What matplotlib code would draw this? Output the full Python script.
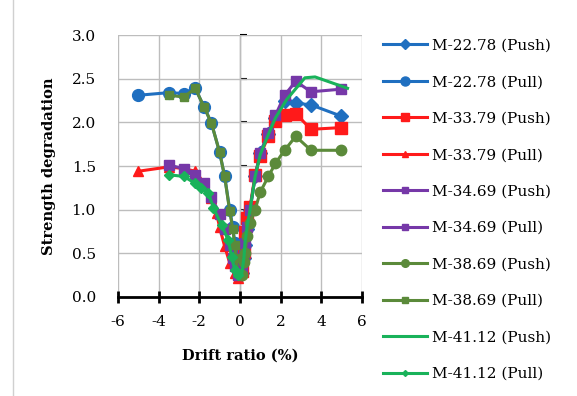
import matplotlib.pyplot as plt
from matplotlib.lines import Line2D

plt.rcParams['font.family'] = ['DejaVu Serif']
plt.rcParams['axes.unicode_minus'] = False

# drift ratio (%) and strength degradation
x_2278_push = [0.1, 0.2, 0.25, 0.35, 0.5, 0.75, 1.0, 1.4, 1.75, 2.2, 2.75, 3.5, 5.0]
y_2278_push = [0.28, 0.45, 0.60, 0.78, 1.00, 1.38, 1.65, 1.87, 2.05, 2.24, 2.22, 2.20, 2.07]
x_2278_pull = [-5.0, -3.5, -2.75, -2.2, -1.75, -1.4, -1.0, -0.75, -0.5, -0.35, -0.25, -0.2, -0.1]
y_2278_pull = [2.31, 2.34, 2.33, 2.39, 2.17, 1.99, 1.66, 1.38, 1.00, 0.80, 0.62, 0.48, 0.30]

x_3379_push = [0.1, 0.2, 0.25, 0.35, 0.5, 0.75, 1.0, 1.4, 1.75, 2.2, 2.75, 3.5, 5.0]
y_3379_push = [0.30, 0.52, 0.75, 0.90, 1.03, 1.40, 1.62, 1.84, 2.02, 2.08, 2.10, 1.92, 1.94]
x_3379_pull = [-5.0, -3.5, -2.75, -2.2, -1.75, -1.4, -1.15, -1.0, -0.75, -0.5, -0.25, -0.1]
y_3379_pull = [1.44, 1.49, 1.47, 1.44, 1.30, 1.13, 0.96, 0.80, 0.58, 0.39, 0.27, 0.22]

x_3469_push = [0.1, 0.2, 0.25, 0.35, 0.5, 0.75, 1.0, 1.4, 1.75, 2.2, 2.75, 3.5, 5.0]
y_3469_push = [0.30, 0.48, 0.62, 0.80, 1.00, 1.38, 1.65, 1.88, 2.08, 2.31, 2.47, 2.35, 2.38]
x_3469_pull = [-3.5, -2.75, -2.2, -1.75, -1.4, -1.0, -0.75, -0.5, -0.35, -0.25, -0.1]
y_3469_pull = [1.51, 1.47, 1.40, 1.30, 1.15, 0.95, 0.78, 0.60, 0.45, 0.35, 0.25]

x_3869_push = [0.1, 0.2, 0.25, 0.35, 0.5, 0.75, 1.0, 1.4, 1.75, 2.2, 2.75, 3.5, 5.0]
y_3869_push = [0.25, 0.40, 0.50, 0.70, 0.85, 1.00, 1.20, 1.38, 1.53, 1.68, 1.84, 1.68, 1.68]
x_3869_pull = [-3.5, -2.75, -2.2, -1.75, -1.4, -1.0, -0.75, -0.5, -0.35, -0.25, -0.2, -0.1]
y_3869_pull = [2.31, 2.29, 2.39, 2.17, 1.99, 1.66, 1.38, 0.98, 0.78, 0.60, 0.45, 0.28]

x_4112_push = [0.1, 0.2, 0.25, 0.35, 0.5, 0.75, 1.0, 1.4, 1.75, 2.3, 3.2, 3.7, 5.3]
y_4112_push = [0.28, 0.45, 0.62, 0.80, 1.00, 1.38, 1.63, 1.86, 2.05, 2.26, 2.51, 2.52, 2.39]
x_4112_pull = [-3.5, -2.75, -2.2, -1.9, -1.55, -1.3, -0.9, -0.57, -0.41, -0.25, -0.1]
y_4112_pull = [1.40, 1.38, 1.30, 1.25, 1.19, 1.02, 0.82, 0.65, 0.46, 0.31, 0.25]

blue = '#1f6fc0'
red = '#ff1a1a'
purple = '#7638a8'
olive = '#5b8a3a'
green = '#19b25a'

series = [
    ('M-22.78 (Push)', x_2278_push, y_2278_push, blue, 'D', 7),
    ('M-22.78 (Pull)', x_2278_pull, y_2278_pull, blue, 'o', 8.5),
    ('M-33.79 (Push)', x_3379_push, y_3379_push, red, 's', 8),
    ('M-33.79 (Pull)', x_3379_pull, y_3379_pull, red, '^', 7),
    ('M-34.69 (Push)', x_3469_push, y_3469_push, purple, 's', 6.5),
    ('M-34.69 (Pull)', x_3469_pull, y_3469_pull, purple, 's', 6.5),
    ('M-38.69 (Push)', x_3869_push, y_3869_push, olive, 'o', 7.5),
    ('M-38.69 (Pull)', x_3869_pull, y_3869_pull, olive, 's', 6),
    ('M-41.12 (Push)', x_4112_push, y_4112_push, green, None, 0),
    ('M-41.12 (Pull)', x_4112_pull, y_4112_pull, green, 'D', 5),
]

fig = plt.figure(figsize=(5.77, 3.96), dpi=100)
ax = fig.add_axes([0.2045, 0.25, 0.4225, 0.6616])

handles = []
for label, xs, ys, c, m, ms in series:
    ax.plot(xs, ys, color=c, lw=2.2, marker=m, ms=ms, zorder=3)
    handles.append(Line2D([], [], color=c, lw=2.2, marker=m,
                          ms=max(ms - 2, 0), label=label))

ax.set_xlim(-6, 6)
ax.set_ylim(0, 3.0)
ax.set_xticks(range(-6, 7, 2))
ax.set_yticks([0, 0.5, 1.0, 1.5, 2.0, 2.5, 3.0])
ax.set_yticklabels(['0.0', '0.5', '1.0', '1.5', '2.0', '2.5', '3.0'])
ax.grid(True, color='#bdbdbd', lw=1)
ax.set_axisbelow(True)

for s in ['top', 'right', 'left']:
    ax.spines[s].set_visible(False)
ax.spines['bottom'].set_linewidth(2)
ax.tick_params(axis='y', length=0, pad=16, labelsize=11)
ax.tick_params(axis='x', direction='inout', length=8, width=2, pad=9,
               labelsize=11)

# vertical axis drawn through zero drift
yax = ax.secondary_yaxis(0.5)
yax.spines['left'].set_linewidth(2)
yax.set_yticks([0.5, 1.0, 1.5, 2.0, 2.5, 3.0])
yax.set_yticklabels([])
yax.tick_params(length=5, width=1.5)

ax.set_xlabel('Drift ratio (%)', fontsize=10.5, fontweight='bold', labelpad=14)
ax.set_ylabel('Strength degradation', fontsize=10.5, fontweight='bold',
              labelpad=11)

fig.legend(handles=handles, loc='upper left', bbox_to_anchor=(0.664, 0.902),
           frameon=False, fontsize=11, handlelength=2.9, labelspacing=1.47,
           handletextpad=0.3, borderaxespad=0, borderpad=0)

fig.add_artist(Line2D([0.023, 0.023], [0.0, 1.0], color='#d0d0d0', lw=1))

fig.savefig('out.png', dpi=100)
